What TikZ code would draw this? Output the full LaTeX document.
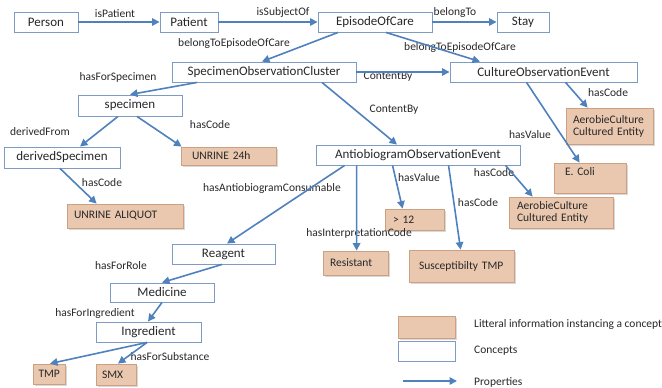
\documentclass[tikz,border=0pt]{standalone}
\usepackage{fontspec}
\setmainfont{Carlito}
\usetikzlibrary{arrows.meta,calc,shadows}
\definecolor{cborder}{RGB}{125,155,195}
\definecolor{lfill}{RGB}{234,200,175}
\definecolor{lborder}{RGB}{205,160,130}
\definecolor{arr}{RGB}{79,129,189}
\definecolor{txt}{RGB}{40,40,40}
\begin{document}
\begin{tikzpicture}[x=1pt,y=-1pt,
 concept/.style={draw=cborder, line width=0.9pt, fill=white, inner sep=0pt, font=\fontsize{13}{15}\selectfont, text=txt},
 lit/.style={draw=lborder, line width=0.8pt, fill=lfill, inner ysep=0pt, font=\fontsize{11.5}{12}\selectfont, text=txt, align=left, drop shadow={opacity=0.3,shadow xshift=1.5pt,shadow yshift=-1.5pt}},
 prop/.style={draw=arr, line width=1.6pt, -{Triangle[length=7.5pt,width=7.5pt]}},
 lbl/.style={font=\fontsize{11.5}{12}\selectfont, text=txt, inner sep=0pt},
]
\useasboundingbox (0,0) rectangle (662,388);

% concepts
\node[concept, minimum width=64pt, minimum height=20pt] (person) at (46,22) {Person};
\node[concept, minimum width=58pt, minimum height=20pt] (patient) at (189,22) {Patient};
\node[concept, minimum width=114pt, minimum height=20pt] (eoc) at (375,22) {EpisodeOfCare};
\node[concept, minimum width=52pt, minimum height=20pt] (stay) at (523,22) {Stay};
\node[concept, minimum width=184pt, minimum height=20pt] (soc) at (264,72) {SpecimenObservationCluster};
\node[concept, minimum width=187pt, minimum height=20pt] (coe) at (543.5,72) {CultureObservationEvent};
\node[concept, minimum width=104pt, minimum height=21pt] (specimen) at (130,105.5) {specimen};
\node[concept, minimum width=116pt, minimum height=21pt] (ds) at (62,157.5) {derivedSpecimen};
\node[concept, minimum width=204pt, minimum height=20pt] (aoe) at (418,155) {AntiobiogramObservationEvent};
\node[concept, minimum width=103pt, minimum height=20pt] (reagent) at (223.5,254) {Reagent};
\node[concept, minimum width=104pt, minimum height=19pt] (medicine) at (162,292.5) {Medicine};
\node[concept, minimum width=105pt, minimum height=20pt] (ingredient) at (148.5,332) {Ingredient};

% literals
\node[lit, text width=73pt, inner xsep=11pt, minimum height=18pt] (u24) at (228.5,156) {UNRINE 24h};
\node[lit, text width=102pt, inner xsep=7pt, minimum height=24pt] (ua) at (125,216) {UNRINE ALIQUOT};
\node[lit, text width=73pt, inner xsep=7pt, minimum height=36pt] (at) at (609.5,126) {AerobieCulture\\Cultured Entity};
\node[lit, text width=50pt, inner xsep=11pt, minimum height=30pt] (ec) at (590,178) {E. Coli\\\mbox{}};
\node[lit, text width=88pt, inner xsep=8pt, minimum height=31pt] (ab) at (561,212.5) {AerobieCulture\\Cultured Entity};
\node[lit, text width=43pt, inner xsep=8pt, minimum height=21pt] (g12) at (414.5,219.5) {> 12};
\node[lit, text width=51pt, inner xsep=7pt, minimum height=24pt] (res) at (355.5,263) {Resistant};
\node[lit, text width=85pt, inner xsep=10pt, minimum height=32pt] (sus) at (461.5,266) {Susceptibilty~TMP};
\node[lit, text width=21pt, inner xsep=5.5pt, minimum height=20pt] (tmp) at (49,374) {TMP};
\node[lit, text width=28pt, inner xsep=6pt, minimum height=21pt] (smx) at (116,374.5) {SMX};

% labels
\node[lbl] (lIsPatient) at (115,14) {isPatient};
\node[lbl] (lIsSubjectOf) at (283,12) {isSubjectOf};
\node[lbl] (lBelongTo) at (455,12) {belongTo};
\node[lbl] (lBTEOCa) at (234,43) {belongToEpisodeOfCare};
\node[lbl] (lBTEOCb) at (460,47) {belongToEpisodeOfCare};
\node[lbl] (lHasForSpecimen) at (118,77) {hasForSpecimen};
\node[lbl] (lContentByA) at (388,77) {ContentBy};
\node[lbl] (lContentByB) at (394,110) {ContentBy};
\node[lbl] (lHasCodeA) at (210,125) {hasCode};
\node[lbl] (lDerivedFrom) at (40,132) {derivedFrom};
\node[lbl] (lHasCodeB) at (102,183) {hasCode};
\node[lbl] (lHasAC) at (272,188) {hasAntiobiogramConsumable};
\node[lbl] (lHasValueA) at (419,178) {hasValue};
\node[lbl] (lHasIC) at (359,233) {hasInterpretationCode};
\node[lbl] (lHasCodeC) at (478,203) {hasCode};
\node[lbl] (lHasCodeD) at (494,173) {hasCode};
\node[lbl] (lHasValueB) at (530,135) {hasValue};
\node[lbl] (lHasCodeE) at (608,93) {hasCode};
\node[lbl] (lHasForRole) at (121,266) {hasForRole};
\node[lbl] (lHasForIngredient) at (95,313) {hasForIngredient};
\node[lbl] (lHasForSubstance) at (170,357) {hasForSubstance};

% properties
\draw[prop] (person) -- (patient);
\draw[prop] (patient) -- (eoc);
\draw[prop] (eoc) -- (stay);
\draw[prop] ($(eoc.south)+(-37,0)$) -- ($(soc.north)+(-2,0)$);
\draw[prop] ($(eoc.south)+(11,0)$) -- ($(coe.north)+(-63.5,0)$);
\draw[prop] ($(soc.south)+(-67,0)$) -- (specimen.north);
\draw[prop] (soc) -- (coe);
\draw[prop] ($(soc.south)+(58,0)$) -- ($(aoe.north)+(-21,0)$);
\draw[prop] ($(specimen.south)+(-12,0)$) -- ($(ds.north)+(18,0)$);
\draw[prop] ($(specimen.south)+(7,0)$) -- ($(u24.north west)+(1,0)$);
\draw[prop] ($(ds.south)+(-2,0)$) -- ($(ua.north west)+(30,0)$);
\draw[prop] ($(aoe.south west)+(29,0)$) -- ($(reagent.north)+(3.5,0)$);
\draw[prop] ($(aoe.south west)+(41,0)$) -- ($(res.north west)+(34,0)$);
\draw[prop] ($(aoe.south west)+(77,0)$) -- ($(g12.north west)+(18,0)$);
\draw[prop] ($(aoe.south west)+(133,0)$) -- ($(sus.north west)+(52,0)$);
\draw[prop] ($(aoe.south west)+(190,0)$) -- ($(ab.north west)+(24,0)$);
\draw[prop] ($(coe.south west)+(116,0)$) -- ($(at.north west)+(22,0)$);
\draw[prop] ($(coe.south west)+(77,0)$) -- ($(ec.north west)+(26,0)$);
\draw[prop] ($(reagent.south)+(-1.5,0)$) -- (medicine.north);
\draw[prop] (medicine.south) -- ($(ingredient.north)+(-0.5,0)$);
\draw[prop] ($(ingredient.south)+(-1.5,0)$) -- ($(tmp.north)+(1,0)$);
\draw[prop] ($(ingredient.south)+(-1.5,0)$) -- ($(smx.north)+(2,0)$);

% legend
\node[lit, minimum width=57pt, minimum height=22pt] (legLit) at (426.5,327) {};
\node[concept, minimum width=57pt, minimum height=20pt] (legCon) at (426.5,351) {};
\coordinate (legA) at (403,381);
\coordinate (legB) at (457,381);
\draw[prop] (legA) -- (legB);
\node[lbl, anchor=west] (legT1) at (474,324) {Litteral information instancing a concept};
\node[lbl, anchor=west] (legT2) at (474,351) {Concepts};
\node[lbl, anchor=west] (legT3) at (474,382) {Properties};
\end{tikzpicture}
\end{document}
